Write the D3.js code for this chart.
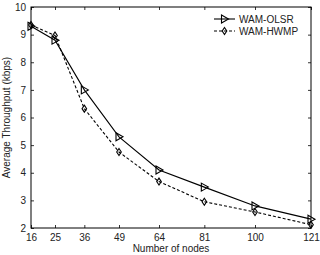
<!DOCTYPE html>
<html>
<head>
<meta charset="utf-8">
<script src="https://cdn.jsdelivr.net/npm/d3@7"></script>
<style>
  body { margin: 0; background: #fff; }
  text { font-family: "Liberation Sans", Arial, sans-serif; fill: #222; }
</style>
</head>
<body>
<svg id="chart"></svg>
<script>
// chart data
const nodes = [16, 25, 36, 49, 64, 81, 100, 121];
const olsr = [9.3, 8.8, 7.0, 5.3, 4.1, 3.48, 2.8, 2.32];
const hwmp = [9.35, 8.97, 6.32, 4.75, 3.68, 2.95, 2.58, 2.12];
const yTicks = [2, 3, 4, 5, 6, 7, 8, 9, 10];
const seriesNames = ["WAM-OLSR", "WAM-HWMP"];

const width = 320, height = 255;
const margin = { left: 31, right: 9, top: 7, bottom: 27 };

const svg = d3.select("#chart")
    .attr("width", width)
    .attr("height", height);

const x = d3.scaleLinear().domain([16, 121]).range([margin.left, width - margin.right]);
const y = d3.scaleLinear().domain([2, 10]).range([height - margin.bottom, margin.top]);

const pw = width - margin.right - margin.left;
const ph = height - margin.bottom - margin.top;

// bottom axis with inward ticks
const gx = svg.append("g")
    .attr("transform", `translate(0,${height - margin.bottom})`)
    .call(d3.axisBottom(x).tickValues(nodes).tickSizeInner(-3).tickSizeOuter(0).tickPadding(6));
// top ticks
svg.append("g")
    .attr("transform", `translate(0,${margin.top})`)
    .call(d3.axisTop(x).tickValues(nodes).tickSizeInner(-3).tickSizeOuter(0).tickFormat(""));
// left axis
const gy = svg.append("g")
    .attr("transform", `translate(${margin.left},0)`)
    .call(d3.axisLeft(y).tickValues(yTicks).tickSizeInner(-3).tickSizeOuter(0).tickPadding(5));
// right ticks
svg.append("g")
    .attr("transform", `translate(${width - margin.right},0)`)
    .call(d3.axisRight(y).tickValues(yTicks).tickSizeInner(-3).tickSizeOuter(0).tickFormat(""));

svg.selectAll(".domain").remove();
svg.selectAll(".tick line").attr("stroke", "#000").attr("stroke-width", 0.8);
svg.selectAll(".tick text").style("font-size", "10px").attr("fill", "#222");

// box
svg.append("rect")
    .attr("x", margin.left).attr("y", margin.top)
    .attr("width", pw).attr("height", ph)
    .attr("fill", "none").attr("stroke", "#000").attr("stroke-width", 1);

const line = d3.line().x((d, i) => x(nodes[i])).y(d => y(d));

const triPath = "M-3,-4 L4,0 L-3,4 Z";
const diaPath = "M0,-3.5 L2.3,0 L0,3.5 L-2.3,0 Z";

function drawSeries(vals, dash, marker) {
    svg.append("path")
        .datum(vals)
        .attr("d", line)
        .attr("fill", "none")
        .attr("stroke", "#000")
        .attr("stroke-width", 1.1)
        .attr("stroke-dasharray", dash);
    svg.selectAll(null)
        .data(vals)
        .enter()
        .append("path")
        .attr("d", marker)
        .attr("transform", (d, i) => `translate(${x(nodes[i])},${y(d)})`)
        .attr("fill", "none")
        .attr("stroke", "#000")
        .attr("stroke-width", 1.1);
}

drawSeries(olsr, null, triPath);
drawSeries(hwmp, "3,2", diaPath);

// legend
const legend = svg.append("g");
[[olsr, null, triPath], [hwmp, "3,2", diaPath]].forEach((s, i) => {
    const ly = 19 + i * 12;
    legend.append("line")
        .attr("x1", 214).attr("x2", 235).attr("y1", ly).attr("y2", ly)
        .attr("stroke", "#000").attr("stroke-width", 1.1)
        .attr("stroke-dasharray", s[1]);
    legend.append("path")
        .attr("d", s[2])
        .attr("transform", `translate(224.5,${ly})`)
        .attr("fill", "none").attr("stroke", "#000").attr("stroke-width", 1.1);
    legend.append("text")
        .attr("x", 239).attr("y", ly + 3.5)
        .style("font-size", "10px")
        .text(seriesNames[i]);
});

// axis labels
svg.append("text")
    .attr("x", (margin.left + width - margin.right) / 2)
    .attr("y", 252)
    .attr("text-anchor", "middle")
    .style("font-size", "10px")
    .text("Number of nodes");

svg.append("text")
    .attr("transform", `translate(10,${(margin.top + height - margin.bottom) / 2}) rotate(-90)`)
    .attr("text-anchor", "middle")
    .style("font-size", "10px")
    .text("Average Throughput (kbps)");
</script>
</body>
</html>
